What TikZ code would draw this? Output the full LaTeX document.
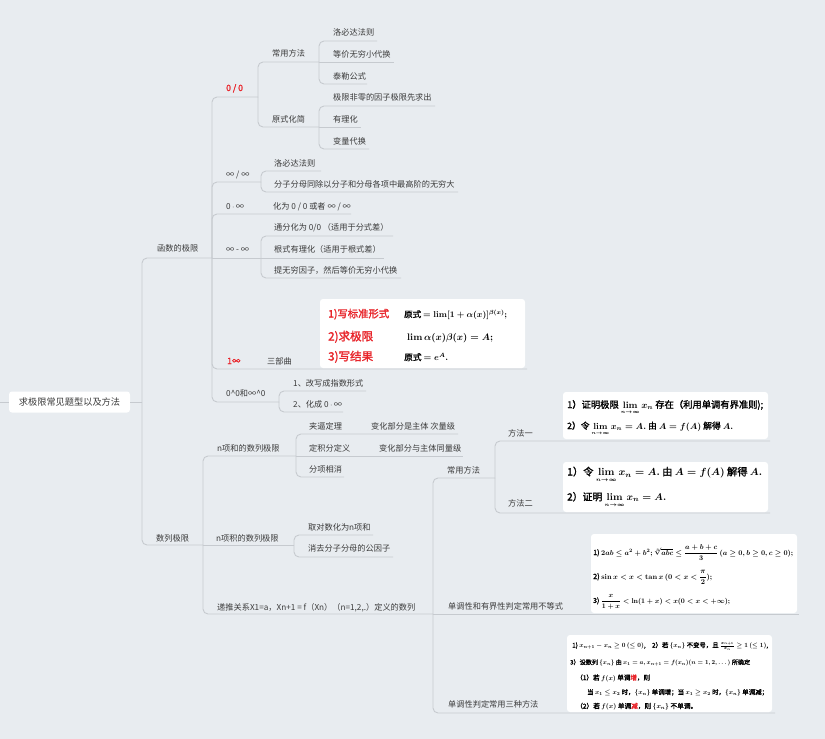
\documentclass[tikz,border=0pt]{standalone}
\usepackage[no-math]{fontspec}
\usepackage{amsmath,amssymb,graphicx,bm}
\setmainfont{Noto Sans CJK SC}[AutoFakeBold=1.6]
\definecolor{bgc}{HTML}{E8ECF0}
\definecolor{lc}{HTML}{C6CACF}
\definecolor{tx}{HTML}{3A3A3A}
\definecolor{myred}{HTML}{E8242A}
\newcommand\brn[3]{\coordinate (#3) at (#2); \draw[ln] (#1) |- (#3);}
\newcommand\brs[3]{\coordinate (#3) at (#2); \draw[ln] (#1) -- (#3);}
\newcommand\fitw[2]{\resizebox{#1pt}{!}{#2}}
\newcommand\limn{\mathop{\lim}\limits_{\smash{\scriptscriptstyle n\to\infty}}}
\begin{document}
\begin{tikzpicture}[x=1pt,y=-1pt,
  ln/.style={draw=lc,line width=0.9pt,rounded corners=5pt},
  lb/.style={anchor=base west,inner sep=0pt,text=tx,font=\fontsize{8.2}{10}\selectfont},
  redlbl/.style={text=myred,font=\fontsize{8.6}{10}\selectfont\bfseries},
  bx/.style={fill=white,draw=none,rounded corners=3pt,inner sep=0pt},
  bt/.style={anchor=base west,inner sep=0pt,text=black,font=\bfseries\boldmath},
]
\fill[bgc] (0,0) rectangle (825,739);
\useasboundingbox (0,0) rectangle (825,739);

% root
\node[bx,minimum width=121pt,minimum height=21pt,font=\fontsize{9.2}{11}\selectfont,text=tx] (root) at (69.5,402) {求极限常见题型以及方法};
\coordinate (L0) at (0,402);
\coordinate (J0) at (142,402);
\draw[ln] (L0) -- (root.west);
\draw[ln] (root.east) -- (J0);
\brn{J0}{212,258}{J1}
\brn{J0}{203,545}{J2}

% function limits
\brn{J1}{258,97}{J11}
\brn{J1}{261,182}{J12}
\brn{J1}{351,214}{E13}
\brs{J1}{261,258}{J14}
\brn{J1}{527,369}{E15}
\brn{J1}{279,402}{J16}
\brn{J11}{319,62}{J111}
\brn{J11}{319,127}{J112}
\brn{J111}{377,41}{E1111}
\brs{J111}{394,62}{E1112}
\brn{J111}{367,84}{E1113}
\brn{J112}{435,106}{E1121}
\brs{J112}{361,127}{E1122}
\brn{J112}{369,149}{E1123}
\brn{J12}{321,171}{E121}
\brn{J12}{458,192}{E122}
\brn{J14}{393,236}{E141}
\brs{J14}{384,258}{E142}
\brn{J14}{401,278}{E143}
\brn{J16}{366,391}{E161}
\brn{J16}{343,412}{E162}

% sequence limits
\brn{J2}{296,456}{J21}
\brs{J2}{294,545}{J22}
\brn{J2}{433,614}{J23}
\brn{J21}{458,434}{E211}
\brs{J21}{463,456}{E212}
\brn{J21}{344,477}{E213}
\brn{J22}{373,535}{E221}
\brn{J22}{393,557}{E222}
\brn{J23}{495,478}{J231}
\brs{J23}{799,614}{E232}
\brn{J23}{775,713}{E233}
\brn{J231}{770,441}{E2311}
\brn{J231}{770,513}{E2312}

% labels: function limits
\node[lb] (t1) at (157,251) {函数的极限};
\node[lb] (t2) at (156,541) {数列极限};
\node[lb,redlbl] (t11) at (226,91) {0 / 0};
\node[lb] (t111) at (272,56) {常用方法};
\node[lb] (t112) at (272,122) {原式化简};
\node[lb] (t1111) at (333,35) {洛必达法则};
\node[lb] (t1112) at (333,57) {等价无穷小代换};
\node[lb] (t1113) at (333,79) {泰勒公式};
\node[lb] (t1121) at (333,100) {极限非零的因子极限先求出};
\node[lb] (t1122) at (333,122) {有理化};
\node[lb] (t1123) at (333,144) {变量代换};
\node[lb] (t12) at (226,177) {∞ / ∞};
\node[lb] (t121) at (274,166) {洛必达法则};
\node[lb] (t122) at (274,187) {分子分母同除以分子和分母各项中最高阶的无穷大};
\node[lb] (t13) at (226,209) {0\,$\cdot$\,∞};
\node[lb] (t131) at (273,209) {化为 0 / 0 或者 ∞ / ∞};
\node[lb] (t14) at (226,252) {∞ - ∞};
\node[lb] (t141) at (274,230) {通分化为 0/0 （适用于分式差）};
\node[lb] (t142) at (274,252) {根式有理化（适用于根式差）};
\node[lb] (t143) at (274,273) {提无穷因子，然后等价无穷小代换};
\node[lb,redlbl] (t15) at (227,364) {1∞};
\node[lb] (t151) at (267,364) {三部曲};
\node[lb] (t16) at (226,396) {0\textasciicircum 0和∞\textasciicircum 0};
\node[lb] (t161) at (293,386) {1、改写成指数形式};
\node[lb] (t162) at (293,407) {2、化成 0\,$\cdot$\,∞};

% labels: sequence limits
\node[lb] (t21) at (217,451) {n项和的数列极限};
\node[lb] (t211) at (309,429) {夹逼定理};
\node[lb] (t2111) at (371,429) {变化部分是主体 次量级};
\node[lb] (t212) at (309,451) {定积分定义};
\node[lb] (t2121) at (379,451) {变化部分与主体同量级};
\node[lb] (t213) at (309,472) {分项相消};
\node[lb] (t22) at (216,541) {n项积的数列极限};
\node[lb] (t221) at (308,530) {取对数化为n项和};
\node[lb] (t222) at (308,551) {消去分子分母的公因子};
\node[lb] (t23) at (217,610) {递推关系X1=a，Xn+1 = f（Xn）（n=1,2,.）定义的数列};
\node[lb] (t231) at (447,473) {常用方法};
\node[lb] (t2311) at (508,436) {方法一};
\node[lb] (t2312) at (508,506) {方法二};
\node[lb] (t232) at (448,609) {单调性和有界性判定常用不等式};
\node[lb] (t233) at (448,707) {单调性判定常用三种方法};

% box A (1-infinity)
\node[bx,minimum width=205pt,minimum height=69pt] (boxA) at (422.5,333.5) {};
\node[bt,text=myred] (a1) at (328,317.5) {\fitw{61}{1)写标准形式}};
\node[bt] (a2) at (404,317.5) {\fitw{103}{原式 $=\lim[1+\alpha(x)]^{\beta(x)};$}};
\node[bt,text=myred] (a3) at (328,340.5) {\fitw{45}{2)求极限}};
\node[bt] (a4) at (407,340.5) {\fitw{86}{$\lim\alpha(x)\beta(x)=A;$}};
\node[bt,text=myred] (a5) at (328,360.5) {\fitw{45}{3)写结果}};
\node[bt] (a6) at (404,360.5) {\fitw{44}{原式 $=e^{A}.$}};

% box B (method 1)
\node[bx,minimum width=205pt,minimum height=47pt] (boxB) at (665.5,415.5) {};
\node[bt] (b1) at (567,408) {\fitw{196}{1）证明极限 $\limn x_n$ 存在（利用单调有界准则);}};
\node[bt] (b2) at (567,429) {\fitw{166}{2）令 $\limn x_n=A.$ 由 $A=f(A)$ 解得 $A.$}};

% box C (method 2)
\node[bx,minimum width=205pt,minimum height=50pt] (boxC) at (665.5,487) {};
\node[bt] (c1) at (567,475.5) {\fitw{195}{1）令 $\limn x_n=A.$ 由 $A=f(A)$ 解得 $A.$}};
\node[bt] (c2) at (567,500.5) {\fitw{99}{2）证明 $\limn x_n=A.$}};

% box D (inequalities)
\node[bx,minimum width=206pt,minimum height=79pt] (boxD) at (694,573.5) {};
\node[bt] (d1) at (593,555) {\fitw{200}{1) $2ab\le a^2+b^2;\sqrt[3]{abc}\le\dfrac{a+b+c}{3}\,(a\ge0,b\ge0,c\ge0);$}};
\node[bt] (d2) at (593,579) {\fitw{119}{2) $\sin x<x<\tan x\,(0<x<\dfrac{\pi}{2});$}};
\node[bt] (d3) at (593,603) {\fitw{137}{3) $\dfrac{x}{1+x}<\ln(1+x)<x(0<x<+\infty);$}};

% box E (three methods)
\node[bx,minimum width=205pt,minimum height=77pt] (boxE) at (669.5,673.5) {};
\node[bt] (e1) at (572,647.5) {\fitw{196}{1) $x_{n+1}-x_n\ge 0\ (\le 0)$,\quad 2）若 $\{x_n\}$ 不变号，且 $\smash{\frac{x_{n+1}}{x_n}}\ge 1\ (\le 1)$,}};
\node[bt] (e2) at (570,664.5) {\fitw{180}{3）设数列 $\{x_n\}$ 由 $x_1=a,x_{n+1}=f(x_n)(n=1,2,\dots)$ 所确定}};
\node[bt] (e3) at (576,680) {\fitw{74}{（1）若 $f(x)$ 单调{\color{myred}增}，则}};
\node[bt] (e4) at (587,694.5) {\fitw{181}{当 $x_1\le x_2$ 时，$\{x_n\}$ 单调增；当 $x_1\ge x_2$ 时，$\{x_n\}$ 单调减；}};
\node[bt] (e5) at (576,708.5) {\fitw{121}{（2）若 $f(x)$ 单调{\color{myred}减}，则 $\{x_n\}$ 不单调。}};
\end{tikzpicture}
\end{document}
